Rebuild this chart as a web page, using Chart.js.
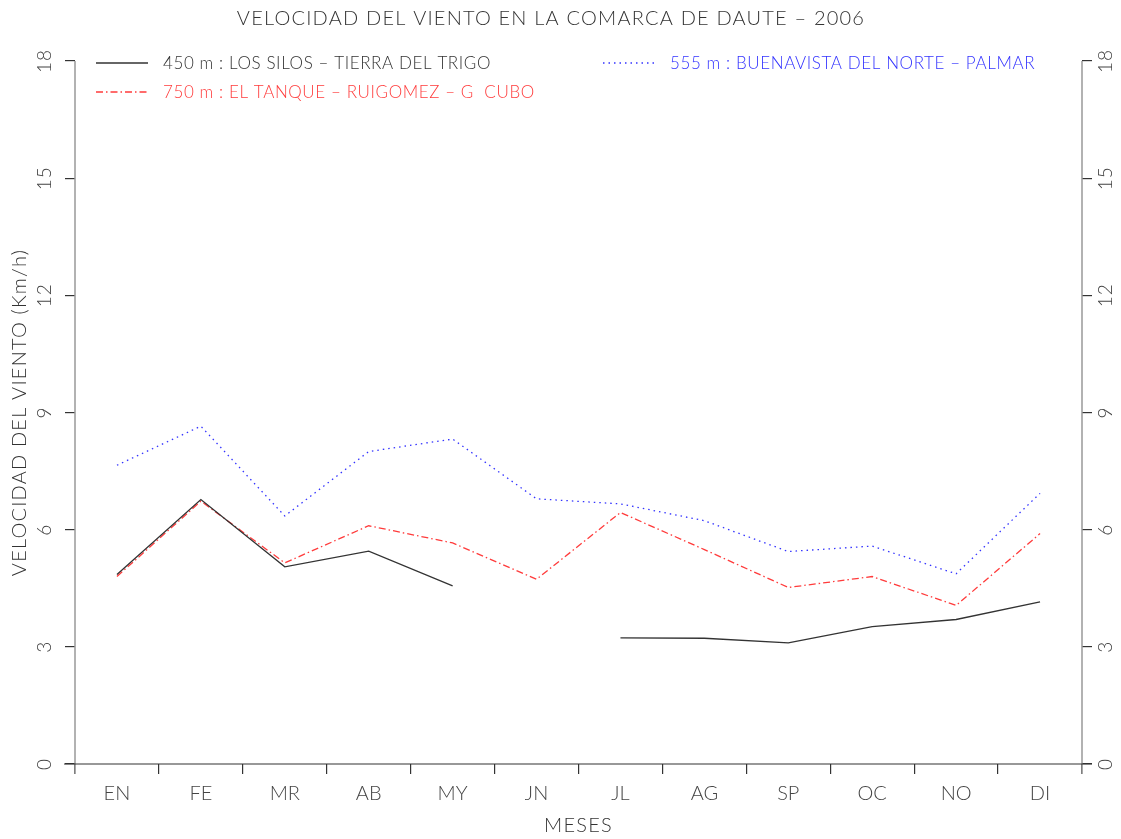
<!DOCTYPE html>
<html><head><meta charset="utf-8">
<script src="https://cdn.jsdelivr.net/npm/chart.js@4"></script>
<style>html,body{margin:0;padding:0;background:#fff}#wrap{width:1121px;height:839px;position:relative}canvas{display:block}</style>
</head><body><div id="wrap"><canvas id="c" width="1121" height="839" style="width:1121px;height:839px"></canvas></div>
<script>
const chartTitle = 'VELOCIDAD DEL VIENTO EN LA COMARCA DE DAUTE – 2006';
const yTitle = 'VELOCIDAD DEL VIENTO (Km/h)';
const xTitle = 'MESES';
const months = ['EN','FE','MR','AB','MY','JN','JL','AG','SP','OC','NO','DI'];
const yTicks = [0,3,6,9,12,15,18];
const seriesNames = ['450 m : LOS SILOS – TIERRA DEL TRIGO','555 m : BUENAVISTA DEL NORTE – PALMAR','750 m : EL TANQUE – RUIGOMEZ – G  CUBO'];
const losSilos   = [4.85,6.77,5.05,5.45,4.56,null,3.23,3.22,3.1,3.52,3.7,4.15];
const buenavista = [7.65,8.65,6.35,8.0,8.32,6.79,6.66,6.23,5.44,5.58,4.87,6.93];
const elTanque   = [4.8,6.73,5.15,6.1,5.66,4.73,6.44,5.49,4.52,4.8,4.06,5.9];

const FONT = 'Lato, "DejaVu Sans", sans-serif';
const COL_BLACK = '#333333', COL_BLUE = '#3333ff', COL_RED = '#ff3b3b';

const textPlugin = {
  id: 'texts',
  afterDraw(chart) {
    const ctx = chart.ctx, ca = chart.chartArea;
    ctx.save();
    ctx.letterSpacing = '1.2px';
    ctx.font = '300 20px ' + FONT;
    ctx.fillStyle = '#333';
    ctx.textAlign = 'center';
    ctx.textBaseline = 'middle';
    ctx.fillText(chartTitle, 551, 19);
    ctx.fillText(xTitle, (ca.left + ca.right) / 2, 826);
    ctx.save();
    ctx.translate(20, (ca.top + ca.bottom) / 2);
    ctx.rotate(-Math.PI / 2);
    ctx.fillText(yTitle, 0, 0);
    ctx.restore();
    // y tick labels (rotated), positioned through the library's scales
    ctx.font = '300 19px ' + FONT;
    ctx.letterSpacing = '1px';
    ctx.fillStyle = '#444';
    [['y', 45], ['y2', 1106]].forEach(([id, x]) => {
      const sc = chart.scales[id];
      sc.ticks.forEach(t => {
        const py = sc.getPixelForValue(t.value);
        ctx.save();
        ctx.translate(x, py);
        ctx.rotate(-Math.PI / 2);
        ctx.fillText(String(t.value), 0, 0);
        ctx.restore();
      });
    });
    const items = [
      {x: 96, y: 63, ds: 0},
      {x: 603, y: 63, ds: 1},
      {x: 96, y: 92, ds: 2}
    ];
    ctx.font = '300 17px ' + FONT;
    ctx.letterSpacing = '0.6px';
    ctx.textAlign = 'left';
    items.forEach(it => {
      const d = chart.data.datasets[it.ds];
      ctx.strokeStyle = d.borderColor;
      ctx.lineWidth = d.borderWidth;
      ctx.setLineDash(d.borderDash || []);
      ctx.beginPath(); ctx.moveTo(it.x, it.y); ctx.lineTo(it.x + 52, it.y); ctx.stroke();
      ctx.setLineDash([]);
      ctx.fillStyle = d.borderColor;
      ctx.fillText(d.label, it.x + 67, it.y + 1);
    });
    ctx.setLineDash([]);
    ctx.strokeStyle = '#999';
    ctx.lineWidth = 1.5;
    ctx.beginPath();
    ctx.moveTo(ca.left, ca.top); ctx.lineTo(ca.left, ca.bottom + 10);
    ctx.moveTo(ca.right, ca.top); ctx.lineTo(ca.right, ca.bottom + 10);
    ctx.stroke();
    ctx.strokeStyle = '#333';
    ctx.lineWidth = 1.2;
    ctx.beginPath();
    ctx.moveTo(ca.left - 11, ca.bottom); ctx.lineTo(ca.right + 10, ca.bottom);
    ctx.stroke();
    ctx.restore();
  }
};

const yTickCfg = (pos) => ({
  position: pos,
  min: 0, max: 18,
  afterBuildTicks: s => { s.ticks = yTicks.map(v => ({value: v})); },
  afterFit: s => { s.width = pos === 'left' ? 75 : 39; },
  border: {display: false},
  grid: {drawOnChartArea: false, drawTicks: true, tickLength: 10, color: '#333', lineWidth: 1.2},
  ticks: {display: false}
});

new Chart(document.getElementById('c'), {
  type: 'line',
  data: {
    labels: months,
    datasets: [
      {label: seriesNames[0], data: losSilos, borderColor: COL_BLACK, borderWidth: 1.3, spanGaps: false},
      {label: seriesNames[1], data: buenavista, borderColor: COL_BLUE, borderWidth: 1.3, borderDash: [1.5, 4]},
      {label: seriesNames[2], data: elTanque, borderColor: COL_RED, borderWidth: 1.3, borderDash: [7, 3, 1.5, 3]}
    ]
  },
  options: {
    responsive: false,
    maintainAspectRatio: false,
    animation: false,
    devicePixelRatio: 1,
    layout: {padding: {top: 61, left: 0, right: 0, bottom: 0}},
    elements: {point: {radius: 0}, line: {tension: 0}},
    plugins: {legend: {display: false}, title: {display: false}, tooltip: {enabled: false}},
    scales: {
      x: {
        offset: true,
        afterFit: s => { s.height = 75; },
        border: {display: false},
        grid: {offset: true, drawOnChartArea: false, tickLength: 10, color: '#333', lineWidth: 1.2},
        ticks: {padding: 8, color: '#444', font: {family: FONT, size: 20, weight: '300'}}
      },
      y: yTickCfg('left'),
      y2: yTickCfg('right')
    }
  },
  plugins: [textPlugin]
});
</script>
</body></html>
